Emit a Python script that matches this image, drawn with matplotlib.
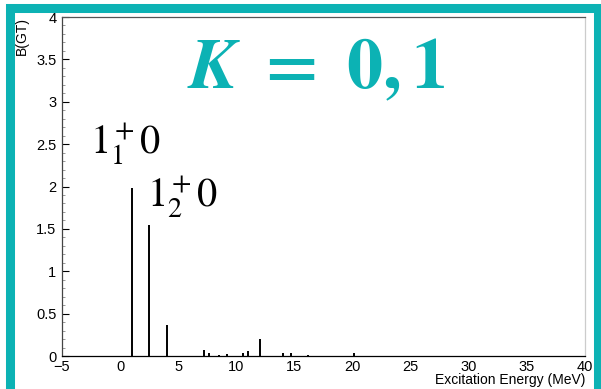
import numpy as np
import matplotlib.pyplot as plt
from matplotlib.patches import Rectangle
from matplotlib.ticker import MultipleLocator, FormatStrFormatter

# Gamow-Teller strength distribution (K = 0, 1)
energy = [1.03, 2.45, 4.05, 7.25, 7.65, 8.5, 9.2, 10.55, 11.0, 12.0,
          14.05, 14.7, 16.2, 20.15, 21.0]
bgt = [1.98, 1.55, 0.36, 0.07, 0.03, 0.01, 0.02, 0.03, 0.06, 0.197,
       0.04, 0.03, 0.01, 0.03, 0.005]

xticks = [-5, 0, 5, 10, 15, 20, 25, 30, 35, 40]
yticks = [0, 0.5, 1, 1.5, 2, 2.5, 3, 3.5, 4]

teal = '#0cb2b4'
plt.rcParams['font.family'] = ['Liberation Sans', 'DejaVu Sans']
plt.rcParams['mathtext.fontset'] = 'stix'

W, H = 601, 389
fig = plt.figure(figsize=(W / 100, H / 100), dpi=100)
ax = fig.add_axes([62 / W, 1 - 356 / H, (585 - 62) / W, (356 - 17) / H])

ax.vlines(energy, 0, bgt, color='black', lw=1.4)

ax.set_xlim(-5, 40)
ax.set_ylim(0, 4)
ax.set_xticks(xticks)
ax.set_yticks(yticks)
ax.yaxis.set_major_formatter(FormatStrFormatter('%g'))
ax.yaxis.set_minor_locator(MultipleLocator(0.1))
ax.tick_params(axis='y', which='major', direction='in', length=5, width=0.8,
               labelsize=10.5, pad=4)
ax.tick_params(axis='y', which='minor', direction='in', length=2.5, width=0.6,
               color='#888888')
ax.tick_params(axis='x', which='both', length=0, labelsize=10.5, pad=3)

ax.spines['left'].set_color('#444444')
ax.spines['bottom'].set_color('black')
ax.spines['top'].set_color('#555555')
ax.spines['right'].set_color('#cccccc')
for s in ax.spines.values():
    s.set_linewidth(0.9)

# state labels
ax.text(-2.6, 2.5, r'$1^+_1 0$', fontsize=29, ha='left', va='center')
ax.text(2.3, 1.88, r'$1^+_2 0$', fontsize=29, ha='left', va='center')

fig.text(316 / W, 1 - 70 / H, r'$\mathbfit{K}\ \mathbf{=\ 0,1}$', color=teal,
         fontsize=52, ha='center', va='center')

fig.text(22 / W, 1 - 17 / H, 'B(GT)', rotation=90, ha='center', va='top',
         fontsize=10)
fig.text(585 / W, 1 - 380 / H, 'Excitation Energy (MeV)', ha='right',
         va='center', fontsize=10)
# axis title of the panel above, mostly outside the canvas
fig.text(574 / W, 1 + 8 / H, 'Excitation Energy (MeV)', ha='right',
         va='center', fontsize=10)

# teal frame around the panel
fig.patches.append(Rectangle((10.5 / W, -2 / H), (598 - 10.5) / W, (389 + 2 - 8) / H,
                             transform=fig.transFigure, fill=False,
                             edgecolor=teal, lw=6.5, zorder=5))

fig.savefig('out.png', dpi=100)
